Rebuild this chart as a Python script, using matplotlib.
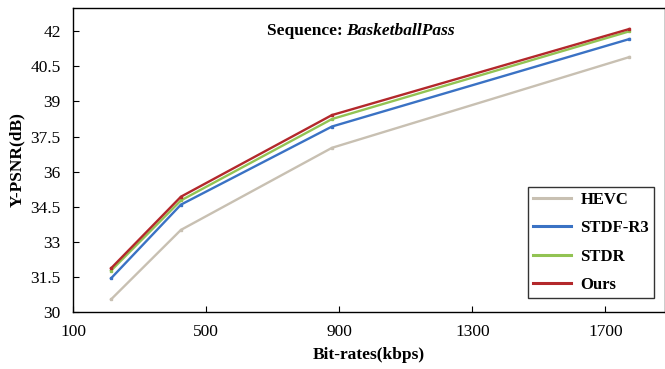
import numpy as np
import matplotlib.pyplot as plt

# bit-rates (kbps) and Y-PSNR (dB)
rates = [214, 424, 878, 1772]
hevc = [30.54, 33.51, 37.02, 40.90]
stdf = [31.44, 34.59, 37.93, 41.67]
stdr = [31.77, 34.77, 38.25, 42.00]
ours = [31.87, 34.93, 38.42, 42.10]

names = ["HEVC", "STDF-R3", "STDR", "Ours"]
colors = ["#c8c0b2", "#3a72c4", "#92c353", "#b3282b"]

plt.rcParams['font.family'] = ['Liberation Serif', 'DejaVu Serif']

fig = plt.figure(figsize=(6.65, 3.69), dpi=100)
ax = fig.add_axes([0.11, 0.1545, 0.8905, 0.824])

for vals, name, c in zip([hevc, stdf, stdr, ours], names, colors):
    ax.plot(rates, vals, color=c, lw=1.7, marker='s', ms=1.8, label=name)

ax.set_xlim(100, 1880)
ax.set_ylim(30, 43)
ax.set_xticks([100, 500, 900, 1300, 1700])
ax.set_yticks(np.arange(30, 42.1, 1.5))
ax.set_yticklabels(["30", "31.5", "33", "34.5", "36", "37.5", "39", "40.5", "42"])
ax.tick_params(direction='in', labelsize=12.5, length=4)
ax.tick_params(axis='x', pad=9)
ax.tick_params(axis='y', pad=9)

ax.set_xlabel("Bit-rates(kbps)", fontsize=12.5, fontweight='bold', labelpad=5)
ax.set_ylabel("Y-PSNR(dB)", fontsize=12.5, fontweight='bold', labelpad=4)

ax.text(922, 42.0, "Sequence: ", fontsize=12.5, fontweight='bold',
        ha='right', va='center')
ax.text(922, 42.0, "BasketballPass", fontsize=12.5, fontweight='bold',
        style='italic', ha='left', va='center')

leg = ax.legend(loc='lower right', bbox_to_anchor=(0.981, 0.046), borderaxespad=0,
                prop={'weight': 'bold', 'size': 12}, frameon=True, fancybox=False,
                edgecolor='black', handlelength=2.3, labelspacing=0.75,
                borderpad=0.3, handletextpad=0.55)
leg.get_frame().set_linewidth(1.0)
for h in leg.get_lines():
    h.set_marker('')
    h.set_linewidth(2.2)

for s in ax.spines.values():
    s.set_linewidth(1.0)

fig.savefig("out.png", dpi=100)
